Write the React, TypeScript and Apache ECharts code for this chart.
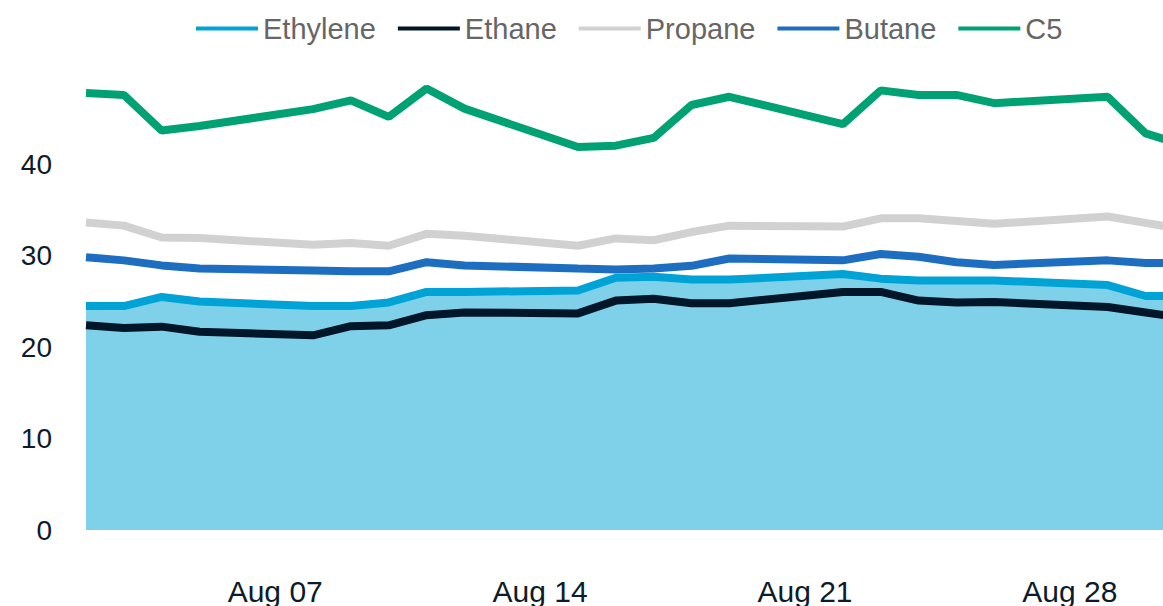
import React, { useEffect, useRef } from "react";
import * as echarts from "echarts";

// Day of month (August) for each observation
const days = [2, 3, 4, 5, 8, 9, 10, 11, 12, 15, 16, 17, 18, 19, 22, 23, 24, 25, 26, 29, 30, 31];
const ethylene = [24.5, 24.5, 25.5, 25.0, 24.5, 24.5, 24.9, 26.05, 26.05, 26.2, 27.6, 27.7, 27.4, 27.4, 28.0, 27.5, 27.3, 27.3, 27.3, 26.8, 25.6, 25.6];
const ethane = [22.4, 22.1, 22.25, 21.7, 21.3, 22.3, 22.4, 23.5, 23.8, 23.7, 25.1, 25.3, 24.8, 24.8, 26.05, 26.05, 25.1, 24.9, 24.95, 24.4, 23.8, 23.2];
const propane = [33.65, 33.3, 32.0, 31.95, 31.2, 31.4, 31.1, 32.4, 32.2, 31.1, 31.9, 31.7, 32.6, 33.3, 33.2, 34.1, 34.1, 33.8, 33.5, 34.3, 33.6, 32.9];
const butane = [29.85, 29.5, 28.95, 28.6, 28.4, 28.3, 28.3, 29.3, 28.95, 28.6, 28.5, 28.6, 28.9, 29.7, 29.5, 30.2, 29.9, 29.3, 29.0, 29.5, 29.2, 29.2];
const c5 = [47.8, 47.6, 43.7, 44.2, 46.05, 47.0, 45.2, 48.3, 46.1, 41.9, 42.05, 42.9, 46.5, 47.4, 44.4, 48.1, 47.6, 47.6, 46.7, 47.4, 43.4, 42.1];

const xTickDays = [7, 14, 21, 28];
const xTickLabels = ["Aug 07", "Aug 14", "Aug 21", "Aug 28"];

const seriesNames = ["Ethylene", "Ethane", "Propane", "Butane", "C5"];
const seriesColors = ["#00a3d6", "#021629", "#d0d1d0", "#1d6ec0", "#00a274"];
const seriesValues = [ethylene, ethane, propane, butane, c5];

export default function App() {
  const ref = useRef<HTMLDivElement>(null);
  useEffect(() => {
    if (!ref.current) return;
    const chart = echarts.init(ref.current, undefined, { renderer: "svg" });
    const series = seriesNames.map((name, i) => ({
      name,
      type: "line",
      data: days.map((d, j) => [d, seriesValues[i][j]]),
      showSymbol: false,
      symbol: "none",
      clip: true,
      lineStyle: { width: 8, color: seriesColors[i] },
      itemStyle: { color: seriesColors[i] },
      areaStyle: i === 0 ? { color: "#7fd1ea", opacity: 1 } : undefined,
      z: 2 + i,
    }));
    chart.setOption({
      animation: false,
      backgroundColor: "#ffffff",
      legend: {
        top: 9,
        left: 191,
        icon: "rect",
        itemWidth: 62,
        itemHeight: 4,
        itemGap: 22,
        textStyle: { color: "#666666", fontSize: 29, fontFamily: "Liberation Sans, Arial, sans-serif" },
        data: seriesNames,
      },
      grid: { left: 86, right: 0, top: 73, bottom: 73, containLabel: false },
      xAxis: {
        type: "value",
        min: 2,
        max: 30.46,
        axisLine: { show: false },
        axisTick: { show: false },
        splitLine: { show: false },
        axisLabel: {
          customValues: xTickDays,
          formatter: (v: number) => xTickLabels[xTickDays.indexOf(Math.round(v))] ?? "",
          color: "#0d1b2a",
          fontSize: 30,
          fontFamily: "Liberation Sans Narrow, Arial Narrow, Liberation Sans, sans-serif",
          margin: 46,
        },
      },
      yAxis: {
        type: "value",
        min: 0,
        max: 50,
        interval: 10,
        axisLine: { show: false },
        axisTick: { show: false },
        splitLine: { show: false },
        axisLabel: {
          showMaxLabel: false,
          color: "#0d1b2a",
          fontSize: 28,
          fontFamily: "Liberation Sans, Arial, sans-serif",
          margin: 34,
        },
      },
      series,
    });
    return () => chart.dispose();
  }, []);
  return <div ref={ref} style={{ position: "absolute", left: 0, top: 0, width: 1163, height: 606 }} />;
}
